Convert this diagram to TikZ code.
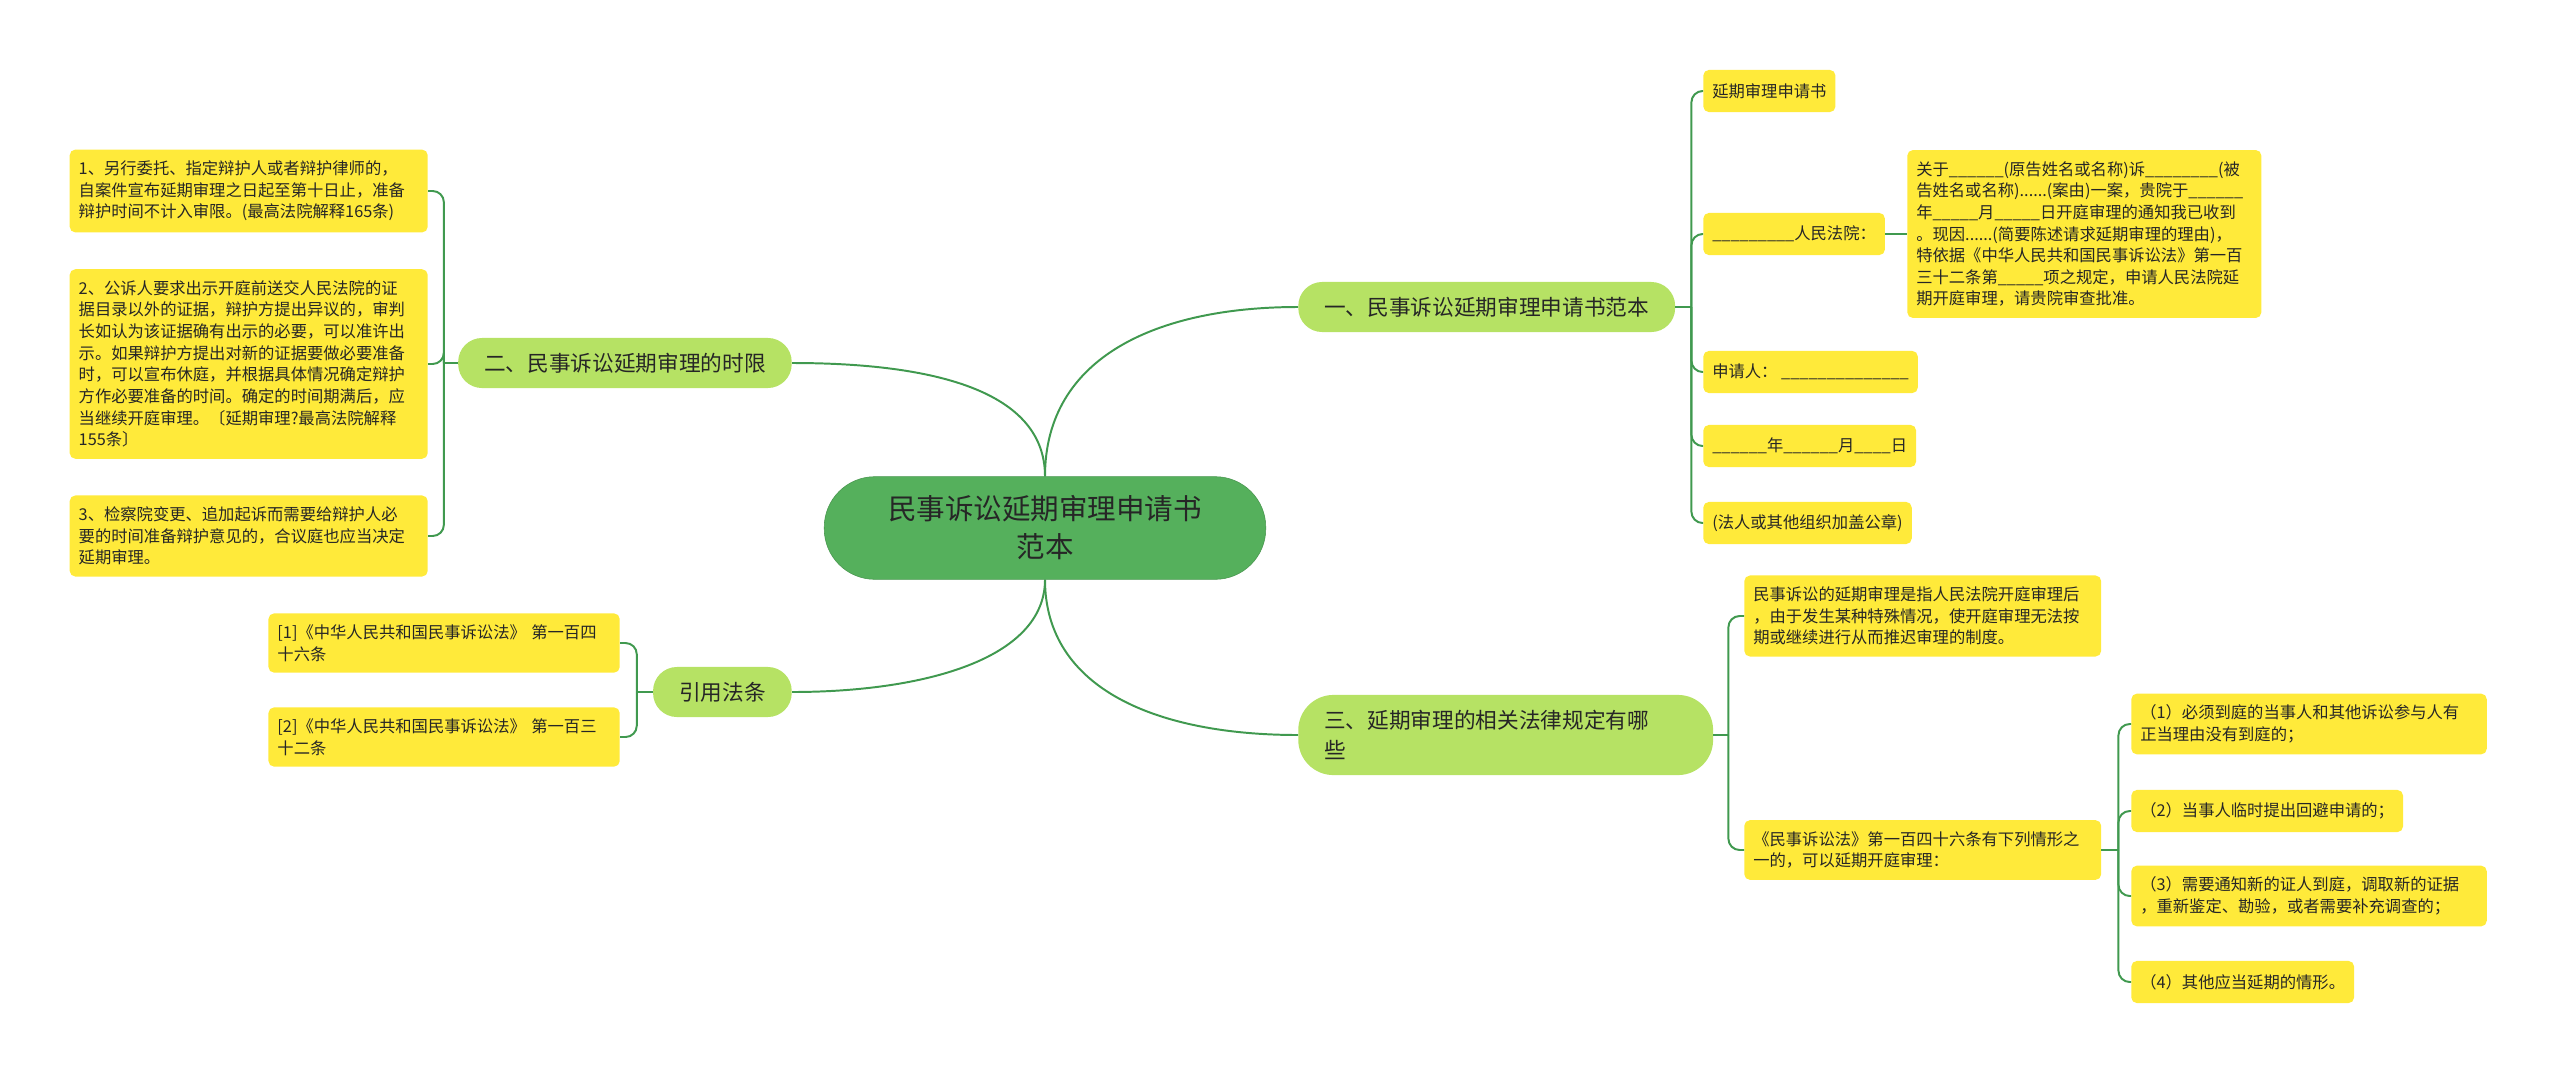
\documentclass[tikz,border=0pt]{standalone}
\usepackage{fontspec}
\setmainfont{Noto Sans CJK SC}
\usetikzlibrary{positioning}
\definecolor{rootgreen}{HTML}{55B05C}
\definecolor{branchgreen}{HTML}{B6E264}
\definecolor{leafyellow}{HTML}{FFEA3A}
\definecolor{linkgreen}{HTML}{40994F}
\definecolor{inkdark}{HTML}{262626}

\begin{document}
\begin{tikzpicture}[x=0.025cm,y=-0.025cm,
  rootbox/.style={fill=rootgreen,draw=rootgreen!85!black,line width=0.4pt,rounded corners=36pt,
    minimum width=314pt,minimum height=73pt,align=center,text=inkdark,font=\fontsize{20.3}{27}\selectfont},
  branch/.style={fill=branchgreen,rounded corners=17pt,minimum height=35.6pt,inner xsep=18.5pt,
    inner ysep=0pt,text=inkdark,font=\fontsize{15.4}{21.3}\selectfont},
  leaf/.style={fill=leafyellow,rounded corners=4pt,minimum height=30pt,inner xsep=6.4pt,inner ysep=8pt,
    align=left,text=inkdark,font=\fontsize{11.6}{15.4}\selectfont},
  link/.style={draw=linkgreen,line width=1.4pt},
  elbow/.style={link,rounded corners=8pt}
]
  \useasboundingbox (0,0) rectangle (2560,1074);

  \node[rootbox] (root) at (1045,528) {民事诉讼延期审理申请书\\范本};

  % branches
  \node[branch,anchor=west] (b1) at (1298,307) {一、民事诉讼延期审理申请书范本};
  \node[branch,anchor=east] (b2) at (792,363) {二、民事诉讼延期审理的时限};
  \node[branch,anchor=west,text width=258pt,align=left,minimum height=57pt,rounded corners=25pt] (b3) at (1298,735)
    {三、延期审理的相关法律规定有哪\\些};
  \node[branch,anchor=east] (b4) at (792,692) {引用法条};

  % 一
  \node[leaf,anchor=west] (a1) at (1703,91) {延期审理申请书};
  \node[leaf,anchor=west] (a2) at (1703,234) {\_\_\_\_\_\_\_\_\_人民法院：};
  \node[leaf,anchor=west,text width=239pt] (a3) at (1907,234)
    {关于\_\_\_\_\_\_(原告姓名或名称)诉\_\_\_\_\_\_\_\_(被\\
     告姓名或名称)......(案由)一案，贵院于\_\_\_\_\_\_\\
     年\_\_\_\_\_月\_\_\_\_\_日开庭审理的通知我已收到\\
     。现因......(简要陈述请求延期审理的理由)，\\
     特依据《中华人民共和国民事诉讼法》第一百\\
     三十二条第\_\_\_\_\_项之规定，申请人民法院延\\
     期开庭审理，请贵院审查批准。};
  \node[leaf,anchor=west] (a4) at (1703,372) {申请人： \_\_\_\_\_\_\_\_\_\_\_\_\_\_};
  \node[leaf,anchor=west] (a5) at (1703,446) {\_\_\_\_\_\_年\_\_\_\_\_\_月\_\_\_\_日};
  \node[leaf,anchor=west] (a6) at (1703,523) {(法人或其他组织加盖公章)};

  % 二
  \node[leaf,anchor=east,text width=241.8pt] (l1) at (428,191)
    {1、另行委托、指定辩护人或者辩护律师的，\\
     自案件宣布延期审理之日起至第十日止，准备\\
     辩护时间不计入审限。(最高法院解释165条)};
  \node[leaf,anchor=east,text width=241.8pt] (l2) at (428,364)
    {2、公诉人要求出示开庭前送交人民法院的证\\
     据目录以外的证据，辩护方提出异议的，审判\\
     长如认为该证据确有出示的必要，可以准许出\\
     示。如果辩护方提出对新的证据要做必要准备\\
     时，可以宣布休庭，并根据具体情况确定辩护\\
     方作必要准备的时间。确定的时间期满后，应\\
     当继续开庭审理。〔延期审理?最高法院解释\\
     155条〕};
  \node[leaf,anchor=east,text width=241.8pt] (l3) at (428,536)
    {3、检察院变更、追加起诉而需要给辩护人必\\
     要的时间准备辩护意见的，合议庭也应当决定\\
     延期审理。};

  % 引用法条
  \node[leaf,anchor=east,text width=237pt] (r1) at (620,643)
    {[1]《中华人民共和国民事诉讼法》 第一百四\\十六条};
  \node[leaf,anchor=east,text width=237pt] (r2) at (620,737)
    {[2]《中华人民共和国民事诉讼法》 第一百三\\十二条};

  % 三
  \node[leaf,anchor=west,text width=241pt] (c1) at (1744,616)
    {民事诉讼的延期审理是指人民法院开庭审理后\\
     ，由于发生某种特殊情况，使开庭审理无法按\\
     期或继续进行从而推迟审理的制度。};
  \node[leaf,anchor=west,text width=241pt] (c2) at (1744,850)
    {《民事诉讼法》第一百四十六条有下列情形之\\
     一的，可以延期开庭审理：};
  \node[leaf,anchor=west,text width=240pt] (d1) at (2131,724)
    {（1）必须到庭的当事人和其他诉讼参与人有\\正当理由没有到庭的；};
  \node[leaf,anchor=west] (d2) at (2131,811) {（2）当事人临时提出回避申请的；};
  \node[leaf,anchor=west,text width=240pt] (d3) at (2131,896)
    {（3）需要通知新的证人到庭，调取新的证据\\，重新鉴定、勘验，或者需要补充调查的；};
  \node[leaf,anchor=west] (d4) at (2131,982) {（4）其他应当延期的情形。};

  % connectors
  \draw[link] (root.north) .. controls +(0,-120) and +(-140,0) .. (b1.west);
  \draw[link] (root.north) .. controls +(0,-90) and +(130,0) .. (b2.east);
  \draw[link] (root.south) .. controls +(0,110) and +(-140,0) .. (b3.west);
  \draw[link] (root.south) .. controls +(0,80) and +(130,0) .. (b4.east);

  \draw[link] (b1.east) -- ++(16,0) coordinate (j1);
  \foreach \c in {a1,a2,a4,a5,a6}
    \draw[elbow] (j1) |- (\c.west);
  \draw[link,line width=2pt] (a2.east) -- (a3.west);
  \draw[link] (b2.west) -- ++(-14,0) coordinate (j2);
  \foreach \c in {l1,l2,l3}
    \draw[elbow] (j2) |- (\c.east);
  \draw[link] (b4.west) -- ++(-16,0) coordinate (j4);
  \foreach \c in {r1,r2}
    \draw[elbow] (j4) |- (\c.east);
  \draw[link] (b3.east) -- ++(15,0) coordinate (j3);
  \foreach \c in {c1,c2}
    \draw[elbow] (j3) |- (\c.west);
  \draw[link] (c2.east) -- ++(17,0) coordinate (j5);
  \foreach \c in {d1,d2,d3,d4}
    \draw[elbow] (j5) |- (\c.west);
\end{tikzpicture}
\end{document}
